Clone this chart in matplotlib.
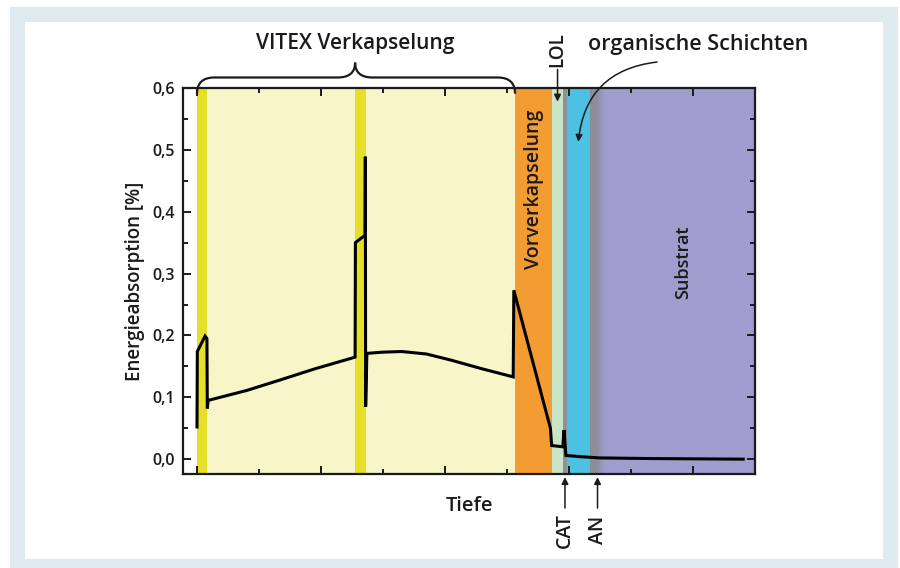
import numpy as np
import matplotlib
matplotlib.use('Agg')
from matplotlib import pyplot as plt
from matplotlib.patches import Rectangle, PathPatch
from matplotlib.path import Path
from matplotlib.colors import LinearSegmentedColormap
from matplotlib.ticker import MultipleLocator, FuncFormatter

plt.rcParams['font.family'] = ['Open Sans', 'DejaVu Sans']
plt.rcParams['font.weight'] = 'semibold'
plt.rcParams['axes.labelweight'] = 'semibold'

# layer stack along depth (arbitrary units, one minor tick = 1)
layer_names = ['VITEX 1', 'VITEX Polymer 1', 'VITEX 2', 'VITEX Polymer 2',
               'Vorverkapselung', 'LOL', 'CAT', 'organisch', 'AN', 'Substrat']
layer_start = [0.00, 0.16, 2.55, 2.73, 5.13, 5.73, 5.90, 5.97, 6.34, 6.58]
layer_end = [0.16, 2.55, 2.73, 5.13, 5.73, 5.90, 5.97, 6.34, 6.58, 9.00]

# energy absorption curve [%]
depth = [0.00, 0.005, 0.13, 0.16, 0.166, 0.18, 0.8, 1.34, 1.9, 2.52, 2.55,
         2.555, 2.71, 2.715, 2.72, 2.74, 3.0, 3.3, 3.7, 4.1, 4.6, 5.10,
         5.11, 5.70, 5.72, 5.90, 5.92, 5.95, 6.18, 6.5, 7.3, 8.81]
absorption = [0.052, 0.174, 0.199, 0.195, 0.082, 0.095, 0.111, 0.128, 0.146, 0.164, 0.165,
              0.350, 0.362, 0.489, 0.085, 0.171, 0.173, 0.174, 0.170, 0.160, 0.146, 0.133,
              0.273, 0.050, 0.022, 0.020, 0.047, 0.006, 0.004, 0.002, 0.001, 0.000]

yticks = [0.0, 0.1, 0.2, 0.3, 0.4, 0.5, 0.6]

band_colors = ['#e6df2a', '#f8f5c8', '#e6df2a', '#f8f5c8', '#f39c31',
               '#c9e5c6', '#8d9295', '#4cc1e1', None, '#9e9dce']

fig = plt.figure(figsize=(9, 5.68), dpi=100)
fig.patches.append(Rectangle((10 / 900, 0), 888 / 900, 561 / 568, transform=fig.transFigure,
                             facecolor='#dfe9f0', edgecolor='none', zorder=-10))
fig.patches.append(Rectangle((25 / 900, 9 / 568), 858 / 900, 537 / 568, transform=fig.transFigure,
                             facecolor='white', edgecolor='none', zorder=-9))

ax = fig.add_axes([183 / 900, 1 - 474 / 568, 572 / 900, 386 / 568])
ymin, ymax = -0.024, 0.6

for s, e, c in zip(layer_start, layer_end, band_colors):
    if c is not None:
        ax.axvspan(s, e, color=c, lw=0, zorder=0)

# AN layer: grey fading into substrate
cm = LinearSegmentedColormap.from_list('an', ['#8c8d92', '#8f8f9e', '#9e9dce'])
ax.imshow(np.linspace(0, 1, 64).reshape(1, -1), cmap=cm, aspect='auto',
          extent=[layer_start[8], layer_end[8], ymin, ymax], zorder=0)

ax.plot(depth, absorption, color='black', lw=2.2, zorder=3, solid_joinstyle='miter')

ax.set_xlim(-0.226, 9.0)
ax.set_ylim(ymin, ymax)
ax.set_yticks(yticks)
ax.yaxis.set_minor_locator(MultipleLocator(0.05))
ax.xaxis.set_major_locator(MultipleLocator(2))
ax.xaxis.set_minor_locator(MultipleLocator(1))
ax.yaxis.set_major_formatter(FuncFormatter(lambda v, p: f'{v:.1f}'.replace('.', ',')))
ax.tick_params(which='both', direction='in', top=True, right=True, width=1.4,
               labelbottom=False, colors='#1a1a1a', labelsize=11.5, pad=6)
ax.tick_params(which='major', length=6)
ax.tick_params(which='minor', length=3.5)
for lbl in ax.get_yticklabels():
    lbl.set_fontweight('semibold')
for sp in ax.spines.values():
    sp.set_linewidth(1.6)
    sp.set_color('#1a1a1a')

ax.set_ylabel('Energieabsorption [%]', fontsize=13.5, color='#1a1a1a')
ax.yaxis.set_label_coords(-0.066, 0.5)
ax.set_xlabel('Tiefe', fontsize=14.5, color='#1a1a1a')
ax.xaxis.set_label_coords(0.5, -0.057)

# curly brace over the VITEX encapsulation
x0, x1, xm = layer_start[0], layer_end[3], layer_start[2]
y0, y1, y2, r = 0.591, 0.617, 0.641, 0.28
verts = [(x0, y0), (x0, y1), (x0 + r, y1), (xm - r, y1), (xm, y1), (xm, y2),
         (xm, y1), (xm + r, y1), (x1 - r, y1), (x1, y1), (x1, y0)]
codes = [Path.MOVETO, Path.CURVE3, Path.CURVE3, Path.LINETO, Path.CURVE3, Path.CURVE3,
         Path.CURVE3, Path.CURVE3, Path.LINETO, Path.CURVE3, Path.CURVE3]
ax.add_patch(PathPatch(Path(verts, codes), fill=False, lw=1.6, ec='#1a1a1a',
                       clip_on=False, zorder=4))

tc = '#1a1a1a'
ax.text(xm, 0.672, 'VITEX Verkapselung', ha='center', va='center', fontsize=15, color=tc)
ax.text((layer_start[4] + layer_end[4]) / 2, 0.437, 'Vorverkapselung', rotation=90,
        ha='center', va='center', fontsize=14, color=tc)
ax.text(7.84, 0.319, 'Substrat', rotation=90, ha='center', va='center', fontsize=13, color=tc)

lol_x = (layer_start[5] + layer_end[5]) / 2
ax.text(lol_x, 0.662, 'LOL', rotation=90, ha='center', va='center', fontsize=13.5,
        color=tc, clip_on=False)
ax.annotate('', xy=(lol_x, 0.578), xytext=(lol_x, 0.630), annotation_clip=False,
            arrowprops=dict(arrowstyle='-|>', color=tc, lw=1.1, mutation_scale=10,
                            shrinkA=0, shrinkB=0))

ax.text(6.31, 0.670, 'organische Schichten', ha='left', va='center', fontsize=15.5, color=tc)
ax.annotate('', xy=(6.15, 0.513), xytext=(7.42, 0.642), annotation_clip=False,
            arrowprops=dict(arrowstyle='-|>', color=tc, lw=1.1, mutation_scale=10,
                            shrinkA=0, shrinkB=0, connectionstyle='arc3,rad=0.4'))

for lab, i in [('CAT', 6), ('AN', 8)]:
    xc = (layer_start[i] + layer_end[i]) / 2
    ax.text(xc, -0.115, lab, rotation=90, ha='center', va='center', fontsize=14,
            color=tc, clip_on=False)
    ax.annotate('', xy=(xc, -0.029), xytext=(xc, -0.079), annotation_clip=False,
                arrowprops=dict(arrowstyle='-|>', color=tc, lw=1.1, mutation_scale=10,
                                shrinkA=0, shrinkB=0))

fig.savefig('out.png', dpi=100, facecolor='white')
